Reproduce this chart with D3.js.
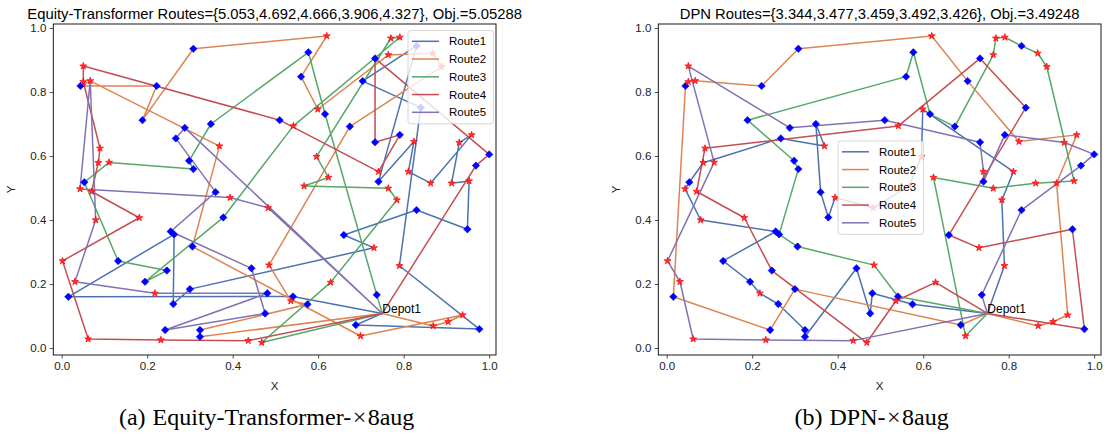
<!DOCTYPE html>
<html><head><meta charset="utf-8">
<script src="https://cdn.jsdelivr.net/npm/d3@7"></script>
<style>body{margin:0;background:#fff}</style>
</head><body>
<svg id="chart" width="1107" height="433"></svg>
<script>
// ---------------- data ----------------
const depotXY = [0.75, 0.108];
const diamondX = [0.308,0.044,0.222,0.189,0.288,0.349,0.510,0.267,0.298,0.308,0.053,0.360,0.830,0.577,0.560,0.733,0.704,0.840,0.616,0.674,0.733,0.791,1.000,0.969,0.741,0.255,0.263,0.132,0.306,0.378,0.246,0.195,0.0156,0.261,0.300,0.444,0.481,0.476,0.242,0.3235,0.3235,0.830,0.660,0.949,0.737,0.541,0.575,0.688,0.977];
const diamondY = [0.935,0.819,0.819,0.712,0.688,0.700,0.712,0.655,0.585,0.559,0.518,0.487,0.944,0.924,0.848,0.905,0.834,0.751,0.731,0.692,0.643,0.666,0.605,0.570,0.520,0.364,0.355,0.272,0.317,0.408,0.242,0.207,0.160,0.1375,0.184,0.249,0.171,0.108,0.056,0.056,0.035,0.431,0.353,0.371,0.166,0.161,0.1365,0.072,0.059];
const starX = [0.0506,0.0506,0.0667,0.369,0.0896,0.0857,0.111,0.043,0.070,0.620,0.770,0.791,0.868,0.889,0.764,0.599,0.542,0.824,0.959,0.930,0.596,0.811,0.741,0.624,0.764,0.863,0.912,0.953,0.0795,0.1815,0.002,0.485,0.394,0.483,0.031,0.218,0.062,0.232,0.4365,0.468,0.784,0.7305,0.790,0.629,0.536,0.699,0.869,0.904,0.938,0.567];
const starY = [0.881,0.832,0.835,0.631,0.624,0.579,0.580,0.497,0.489,0.975,0.968,0.971,0.921,0.879,0.916,0.746,0.694,0.645,0.666,0.642,0.598,0.551,0.551,0.533,0.499,0.515,0.515,0.522,0.400,0.407,0.272,0.259,0.470,0.438,0.207,0.171,0.028,0.025,0.023,0.017,0.4625,0.313,0.257,0.205,0.147,0.0375,0.069,0.082,0.103,0.506];

const routeNames = ["Route1","Route2","Route3","Route4","Route5"];
const routeColors = ["#4c72b0","#dd8452","#55a868","#c44e52","#8172b3"];

// Equity-Transformer routes (node ids: D = depot, dN = diamond N, sN = star N)
const etRoute1 = ["D","d46","d33","d27","d34","d35","s42","d43","d42","d44","s28","s27","s20","s19","s26","s22","s18","d25","d13","d17","d18","s43","d49","d48","D"];
const etRoute2 = ["D","s47","s48","s49","s46","d29","s4","s3","d2","d3","d4","d1","s10","d15","s16","s15","s13","s14","d20","s32","s45","d47","d40","d41","D"];
const etRoute3 = ["D","d45","d19","d14","d6","d9","d10","s7","d11","d28","d31","d32","d30","s17","s12","s11","s21","s24","s50","s25","s41","s44","s40","D"];
const etRoute4 = ["D","d24","d23","d16","d21","d22","s23","d7","s1","s2","s5","s6","s9","s30","s31","s37","s38","s39","D"];
const etRoute5 = ["D","d5","d8","d12","d26","d36","d38","d39","d37","s36","s35","s29","s3","s8","s33","s34","D"];

// DPN routes
const dpnRoute1 = ["D","d47","d37","d38","d36","d41","d40","d34","s36","d32","d28","d26","s29","s8","d11","s6","d8","s4","d6","d12","d30","s33","s34","s50","s21","s16","s22","s41","s43","D"];
const dpnRoute2 = ["D","s47","s48","s49","s27","s19","s18","d17","s10","d1","d3","s3","s2","d2","d33","d39","d35","d48","D"];
const dpnRoute3 = ["D","s46","s24","s25","s26","s28","s14","s13","d13","s12","s11","s15","d20","d19","d14","d15","d4","d9","d10","d27","d29","s32","d46","D"];
const dpnRoute4 = ["D","d49","d44","s42","d43","d18","d16","s17","s5","s9","s30","d31","s40","s45","s44","D"];
const dpnRoute5 = ["D","s39","s38","s37","s35","s31","s7","s1","d5","d7","d21","s23","d25","d22","s20","d23","d24","d42","d45","D"];

const titleA = "Equity-Transformer Routes={5.053,4.692,4.666,3.906,4.327}, Obj.=5.05288";
const titleB = "DPN Routes={3.344,3.477,3.459,3.492,3.426}, Obj.=3.49248";
const captionA = ["(a)", "Equity-Transformer-", "×", "8aug"];
const captionB = ["(b)", "DPN-", "×", "8aug"];
const tickValues = [0, 0.2, 0.4, 0.6, 0.8, 1.0];

// ---------------- drawing ----------------
const nodes = {D: depotXY};
diamondX.forEach((x,i)=>{ nodes["d"+(i+1)] = [x, diamondY[i]]; });
starX.forEach((x,i)=>{ nodes["s"+(i+1)] = [x, starY[i]]; });

const svg = d3.select("#chart");
const FONT = "'Liberation Sans', Arial, Helvetica, sans-serif";

const panels = [
  {left: 53.3, title: titleA, caption: captionA, routes: [etRoute1,etRoute2,etRoute3,etRoute4,etRoute5], legendX: 408, legendY: 30.5},
  {left: 658.3, title: titleB, caption: captionB, routes: [dpnRoute1,dpnRoute2,dpnRoute3,dpnRoute4,dpnRoute5], legendX: 838, legendY: 141}
];

const frameW = 442.7, frameTop = 24, frameBottom = 355;
const xDom = [-0.0196, 1.0159], yDom = [-0.0219, 1.0125];

panels.forEach(p => {
  const g = svg.append("g");
  const x = d3.scaleLinear().domain(xDom).range([p.left, p.left + frameW]);
  const y = d3.scaleLinear().domain(yDom).range([frameBottom, frameTop]);

  // routes
  const line = d3.line().x(id => x(nodes[id][0])).y(id => y(nodes[id][1]));
  p.routes.forEach((r, i) => {
    g.append("path").attr("d", line(r)).attr("fill","none")
      .attr("stroke", routeColors[i]).attr("stroke-width", 1.5)
      .attr("stroke-linejoin","round").attr("stroke-linecap","round");
  });

  // diamonds
  const dr = 3.7;
  g.selectAll(".dia").data(diamondX.map((v,i)=>[v,diamondY[i]])).join("path")
    .attr("d", d => `M${x(d[0])},${y(d[1])-dr}L${x(d[0])+dr},${y(d[1])}L${x(d[0])},${y(d[1])+dr}L${x(d[0])-dr},${y(d[1])}Z`)
    .attr("fill","#0000ff").attr("stroke","#0000ff").attr("stroke-width",0.6);

  // stars
  const star = d3.symbol().type(d3.symbolStar).size(15);
  g.selectAll(".star").data(starX.map((v,i)=>[v,starY[i]])).join("path")
    .attr("d", star).attr("transform", d => `translate(${x(d[0])},${y(d[1])})`)
    .attr("fill","#ff3030").attr("stroke","#ff0000").attr("stroke-width",0.7);

  // depot label
  g.append("text").attr("x", x(depotXY[0])).attr("y", y(depotXY[1]))
    .attr("font-family", FONT).attr("font-size", 12).attr("fill","#000").text("Depot1");

  // frame
  g.append("rect").attr("x", p.left).attr("y", frameTop).attr("width", frameW).attr("height", frameBottom-frameTop)
    .attr("fill","none").attr("stroke","#000").attr("stroke-width",0.9);

  // axes
  const ax = g.append("g").attr("transform",`translate(0,${frameBottom})`)
    .call(d3.axisBottom(x).tickValues(tickValues).tickFormat(d3.format(".1f")).tickSize(3.5).tickPadding(3.5));
  const ay = g.append("g").attr("transform",`translate(${p.left},0)`)
    .call(d3.axisLeft(y).tickValues(tickValues).tickFormat(d3.format(".1f")).tickSize(3.5).tickPadding(3.5));
  [ax, ay].forEach(a => {
    a.select(".domain").remove();
    a.selectAll("text").attr("font-family", FONT).attr("font-size", 11.5).attr("fill","#222");
    a.selectAll("line").attr("stroke","#222").attr("stroke-width",0.8);
  });

  // axis labels
  g.append("text").attr("x", p.left + frameW/2).attr("y", 390).attr("text-anchor","middle")
    .attr("font-family", FONT).attr("font-size", 11.5).attr("fill","#222").text("X");
  g.append("text").attr("transform",`translate(${p.left-38},${(frameTop+frameBottom)/2}) rotate(-90)`)
    .attr("text-anchor","middle").attr("font-family", FONT).attr("font-size", 11.5).attr("fill","#222").text("Y");

  // title
  g.append("text").attr("x", p.left + frameW/2).attr("y", 18.5).attr("text-anchor","middle")
    .attr("font-family", FONT).attr("font-size", 14.8).attr("fill","#000").text(p.title);

  // caption
  const cap = g.append("text").attr("x", p.left + frameW/2 - 8).attr("y", 425).attr("text-anchor","middle")
    .attr("font-family","'Liberation Serif','Times New Roman',serif").attr("font-size", 24).attr("fill","#000");
  cap.append("tspan").text(p.caption[0]);
  cap.append("tspan").attr("dx", 7).text(p.caption[1]);
  cap.append("tspan").attr("dx", 1.5).text(p.caption[2]);
  cap.append("tspan").attr("dx", 1.5).text(p.caption[3]);

  // legend
  const lg = g.append("g").attr("transform",`translate(${p.legendX},${p.legendY})`);
  lg.append("rect").attr("width", 85.5).attr("height", 93.3).attr("rx", 2.5)
    .attr("fill","#fff").attr("fill-opacity",0.8).attr("stroke","#cccccc").attr("stroke-width",0.8);
  routeNames.forEach((n, i) => {
    const cy = 10.8 + i*17.75;
    lg.append("line").attr("x1", 4).attr("x2", 31).attr("y1", cy).attr("y2", cy)
      .attr("stroke", routeColors[i]).attr("stroke-width", 1.5);
    lg.append("text").attr("x", 41).attr("y", cy + 4.1).attr("font-family", FONT)
      .attr("font-size", 11.5).attr("fill","#000").text(n);
  });
});
</script>
</body></html>
